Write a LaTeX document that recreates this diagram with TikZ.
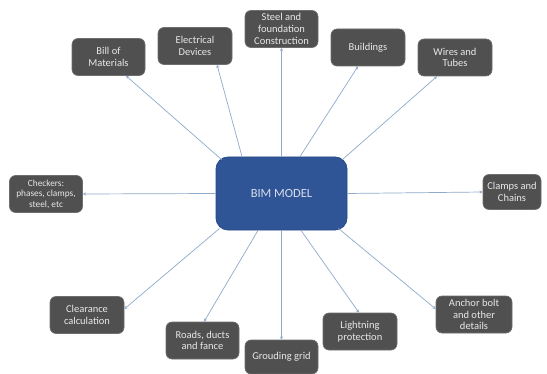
\documentclass[tikz,border=0pt]{standalone}
\usepackage{fontspec}
\setmainfont{Carlito}
\usetikzlibrary{calc,arrows.meta}
\definecolor{boxfill}{HTML}{505050}
\definecolor{boxline}{HTML}{6E6E6E}
\definecolor{boxtext}{HTML}{E8E8E8}
\definecolor{bimfill}{HTML}{2F5597}
\definecolor{bimline}{HTML}{284C88}
\definecolor{bimtext}{HTML}{D8DEEA}
\definecolor{conncol}{HTML}{8FAACB}
\tikzset{
  x=1pt,y=1pt,
  gbox/.style={draw=boxline, line width=0.6pt, fill=boxfill, rounded corners=6pt,
    text=boxtext, align=center, inner sep=0pt, minimum width=74pt, minimum height=37pt,
    font=\fontsize{10.5}{11.7}\selectfont},
  bimbox/.style={draw=bimline, line width=0.8pt, fill=bimfill, rounded corners=12pt,
    text=bimtext, align=center, inner sep=0pt, minimum width=131pt, minimum height=73pt,
    font=\fontsize{12.5}{14}\selectfont},
  conn/.style={draw=conncol, line width=0.7pt, -{Stealth[length=3.2pt,width=3pt]}}
}
\begin{document}
\begin{tikzpicture}
\useasboundingbox[fill=white] (0,0) rectangle (547,373);
\node[bimbox] (bim) at (281.5,179.5) {BIM MODEL};
\node[gbox, minimum width=73pt] (bom) at (108.5,316) {Bill of\\Materials};
\node[gbox] (elec) at (195,327) {Electrical\\Devices};
\node[gbox, minimum width=73pt] (steel) at (281.5,344) {Steel and\\foundation\\Construction};
\node[gbox] (build) at (368,325.5) {Buildings};
\node[gbox] (wires) at (455,315.5) {Wires and\\Tubes};
\node[gbox, minimum width=73pt, font=\fontsize{9.3}{10.6}\selectfont] (check) at (46,179) {Checkers:\\phases, clamps,\\steel, etc};
\node[gbox, minimum width=58pt, minimum height=35pt] (clamps) at (512,181) {Clamps and\\Chains};
\node[gbox] (clear) at (87,58) {Clearance\\calculation};
\node[gbox, minimum width=73pt] (roads) at (202.5,32.5) {Roads, ducts\\and fance};
\node[gbox, minimum width=73pt, minimum height=34pt] (ground) at (281.5,16) {Grouding grid};
\node[gbox] (light) at (360,41.5) {Lightning\\protection};
\node[gbox, minimum width=76pt] (anchor) at (474,58.5) {Anchor bolt\\and other\\details};

\draw[conn] ($(bim.north west)+(6,-3)$) -- ($(bom.south)+(17.5,0)$);
\draw[conn] ($(bim.north)+(-39.5,0)$) -- ($(elec.south)+(22,0)$);
\draw[conn] (bim.north) -- (steel.south);
\draw[conn] ($(bim.north)+(18.5,0)$) -- ($(build.south)+(-10,0)$);
\draw[conn] ($(bim.north east)+(-5,-3)$) -- ($(wires.south)+(-18,0)$);
\draw[conn] (bim.west) -- (check.east);
\draw[conn] (bim.east) -- (clamps.west);
\draw[conn] ($(bim.south west)+(4,2)$) -- ($(clear.east)+(0,6)$);
\draw[conn] ($(bim.south)+(-23.5,0)$) -- ($(roads.north)+(1.5,0)$);
\draw[conn] (bim.south) -- (ground.north);
\draw[conn] ($(bim.south)+(19.5,0)$) -- ($(light.north)+(-1,0)$);
\draw[conn] ($(bim.south east)+(-9,2)$) -- ($(anchor.west)+(0,5.5)$);
\end{tikzpicture}
\end{document}
